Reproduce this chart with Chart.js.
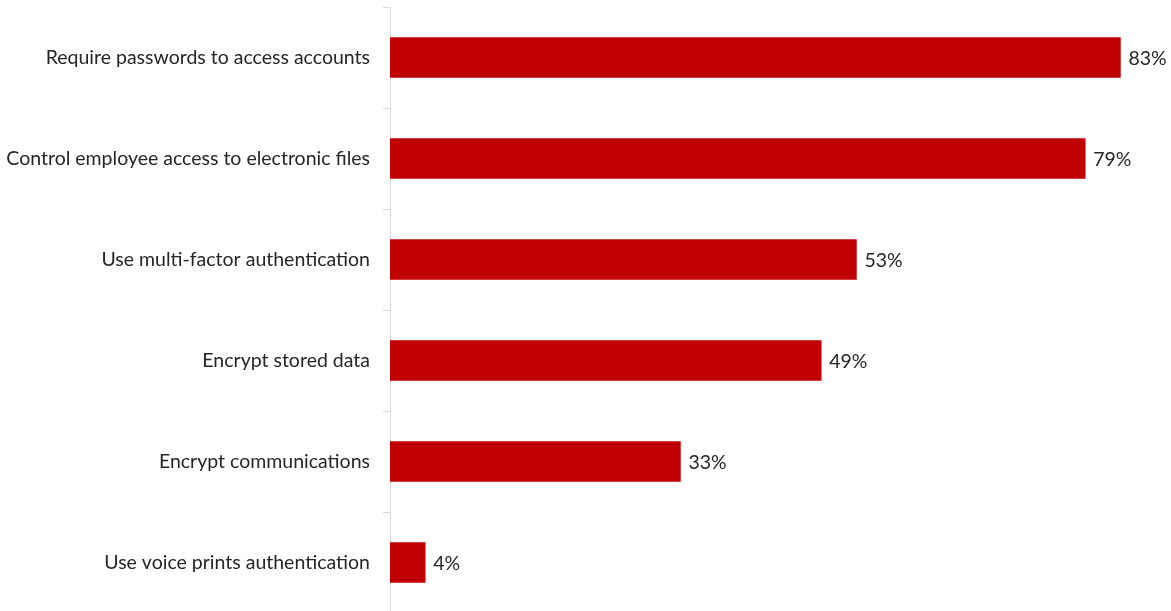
<!DOCTYPE html>
<html>
<head>
<meta charset="utf-8">
<script src="https://cdn.jsdelivr.net/npm/chart.js@4.4.1/dist/chart.umd.min.js"></script>
<style>
  html, body { margin: 0; padding: 0; background: #fff; overflow: hidden; }
  #wrap { width: 1171px; height: 613px; position: relative; }
</style>
</head>
<body>
<div id="wrap"><canvas id="myChart"></canvas></div>
<script>
// security practices, share of respondents (%)
const practices = [
  'Require passwords to access accounts',
  'Control employee access to electronic files',
  'Use multi-factor authentication',
  'Encrypt stored data',
  'Encrypt communications',
  'Use voice prints authentication'
]
const shares = [83, 79, 53, 49, 33, 4]

const textColor = '#262626'
const barColor = '#C00000'
const lineColor = '#d9d9d9'
const fontFamily = 'Lato, Carlito, "Open Sans", sans-serif'
const fontSize = 19.5

// writes "NN%" just past the end of each bar
const valueLabels = {
  id: 'valueLabels',
  afterDatasetsDraw(chart) {
    let ctx = chart.ctx
    let meta = chart.getDatasetMeta(0)
    ctx.save()
    ctx.font = fontSize + 'px ' + fontFamily
    ctx.fillStyle = textColor
    ctx.textAlign = 'left'
    ctx.textBaseline = 'middle'
    meta.data.forEach((bar, i) => {
      ctx.fillText(shares[i] + '%', bar.x + 8, bar.y + 1)
    })
    ctx.restore()
  }
}

var ctx = document.getElementById('myChart').getContext('2d');
var chart = new Chart(ctx, {
  type: 'bar',
  data: {
    labels: practices,
    datasets: [{
      data: shares,
      backgroundColor: barColor,
      borderWidth: 0,
      barThickness: 40
    }]
  },
  options: {
    indexAxis: 'y',
    responsive: true,
    maintainAspectRatio: false,
    animation: false,
    layout: { padding: { top: 7, right: 33, bottom: 0, left: 0 } },
    plugins: {
      legend: { display: false },
      tooltip: { enabled: false }
    },
    scales: {
      x: {
        display: false,
        min: 0,
        max: 85
      },
      y: {
        afterFit(scale) {
          scale.width = 390
          // no extra room above/below the first and last labels
          scale.paddingTop = 0
          scale.paddingBottom = 0
        },
        border: { display: true, color: lineColor, width: 1 },
        grid: {
          drawOnChartArea: false,
          drawTicks: true,
          tickLength: 7,
          color: lineColor,
          offset: true
        },
        ticks: {
          color: textColor,
          padding: 13,
          font: { family: fontFamily, size: fontSize }
        }
      }
    }
  },
  plugins: [valueLabels]
});
</script>
</body>
</html>
